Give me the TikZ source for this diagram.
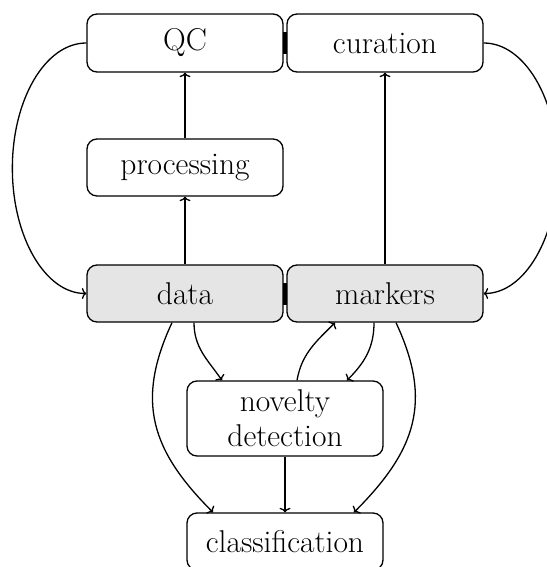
\documentclass[tikz,border=0pt]{standalone}
\usetikzlibrary{calc,arrows.meta}
\begin{document}
\begin{tikzpicture}[x=1pt,y=-1pt,
  box/.style={draw, rounded corners=10pt, line width=1.3pt, minimum width=196pt, inner sep=0pt, align=center, font=\fontsize{31.5}{35}\selectfont},
  hi/.style={box, fill=black!10},
  link/.style={-{To[length=4.5pt,width=11pt]}, line width=1.3pt},
  bar/.style={fill=black, draw=none}]
\useasboundingbox (0,0) rectangle (546,567);
\node[box, minimum height=58pt] (qc) at (185,43) {QC};
\node[box, minimum height=58pt] (cur) at (385,43) {curation};
\node[box, minimum height=57pt] (proc) at (185,167.5) {processing};
\node[hi, minimum height=57pt] (data) at (185,293.5) {data};
\node[hi, minimum height=57pt] (mark) at (385,293.5) {markers};
\node[box, minimum height=75pt] (nov) at (285,418.5) {novelty\\detection};
\node[box, minimum height=57pt] (cls) at (285,541.5) {classification};
\fill[bar] ($(qc.east)+(-1,-11)$) rectangle ($(cur.west)+(1,11)$);
\fill[bar] ($(data.east)+(-1,-11)$) rectangle ($(mark.west)+(1,11)$);
% side loops (half ellipses)
\coordinate (lm) at ($(qc.west)!0.5!(data.west)+(-74,0)$);
\coordinate (rm) at ($(cur.east)!0.5!(mark.east)+(74,0)$);
\draw[link] (qc.west) .. controls ($(qc.west)+(-41,0)$) and ($(lm)+(0,-69)$) .. (lm)
  .. controls ($(lm)+(0,69)$) and ($(data.west)+(-41,0)$) .. (data.west);
\draw[link] (cur.east) .. controls ($(cur.east)+(41,0)$) and ($(rm)+(0,-69)$) .. (rm)
  .. controls ($(rm)+(0,69)$) and ($(mark.east)+(41,0)$) .. (mark.east);
% vertical
\draw[link] (data.north) -- (proc.south);
\draw[link] (proc.north) -- (qc.south);
\draw[link] (mark.north) -- (cur.south);
\draw[link] (nov.south) -- (cls.north);
% curves to novelty
\draw[link] ($(data.south)+(9,0)$) to[out=-90,in=125] ($(nov.north)+(-63,0)$);
\draw[link] ($(nov.north)+(12,0)$) to[out=80,in=-135] ($(mark.south)+(-50,0)$);
\draw[link] ($(mark.south)+(-11,0)$) to[out=-90,in=45] ($(nov.north)+(62,0)$);
% big curves to classification
\draw[link] ($(data.south)+(-13,0)$) to[out=-115,in=135,looseness=1.15] ($(cls.north)+(-72,0)$);
\draw[link] ($(mark.south)+(11,0)$) to[out=-65,in=45,looseness=1.15] ($(cls.north)+(69,0)$);
\end{tikzpicture}
\end{document}
